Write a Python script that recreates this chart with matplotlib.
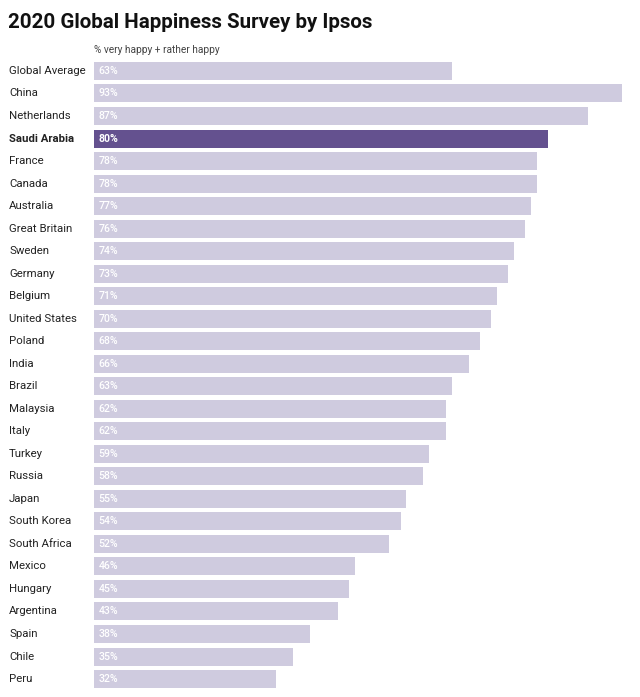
import matplotlib
matplotlib.use("Agg")
import matplotlib.pyplot as plt
import matplotlib.transforms as mtransforms

countries = ["Global Average", "China", "Netherlands", "Saudi Arabia", "France", "Canada",
             "Australia", "Great Britain", "Sweden", "Germany", "Belgium", "United States",
             "Poland", "India", "Brazil", "Malaysia", "Italy", "Turkey", "Russia", "Japan",
             "South Korea", "South Africa", "Mexico", "Hungary", "Argentina", "Spain",
             "Chile", "Peru"]
values = [63, 93, 87, 80, 78, 78, 77, 76, 74, 73, 71, 70, 68, 66, 63, 62, 62, 59, 58,
          55, 54, 52, 46, 45, 43, 38, 35, 32]
highlight = "Saudi Arabia"

plt.rcParams['font.family'] = ['Roboto', 'DejaVu Sans']

W, H = 640, 697
fig = plt.figure(figsize=(W/100, H/100), dpi=100)
left, right = 94/W, 622/W
top_px, bot_px = 59.7, 690.3
ax = fig.add_axes([left, 1 - bot_px/H, right - left, (bot_px - top_px)/H])

light = "#cfcbdf"
dark = "#64518f"
n = len(countries)
ys = list(range(n))
colors = [dark if c == highlight else light for c in countries]
ax.barh(ys, values, height=0.8, color=colors)
ax.set_xlim(0, 93)
ax.set_ylim(n - 0.5, -0.5)
ax.axis("off")

trans = mtransforms.blended_transform_factory(fig.transFigure, ax.transData)
for i, (c, v) in enumerate(zip(countries, values)):
    bold = c == highlight
    ax.text(0.8, i, f"{v}%", color="white", fontsize=7.6, va="center", ha="left",
            fontweight="bold" if bold else "medium")
    ax.text(9/W, i, c, transform=trans, fontsize=8.2, va="center", ha="left",
            color="#222222", fontweight="bold" if bold else "normal")

fig.text(8/W, 1 - 22/H, "2020 Global Happiness Survey by Ipsos", fontsize=14.8,
         fontweight="bold", va="center", ha="left", color="#111111")
fig.text(94/W, 1 - 50/H, "% very happy + rather happy", fontsize=7.3,
         va="center", ha="left", color="#444444")

fig.savefig("out.png", dpi=100, facecolor="white")
